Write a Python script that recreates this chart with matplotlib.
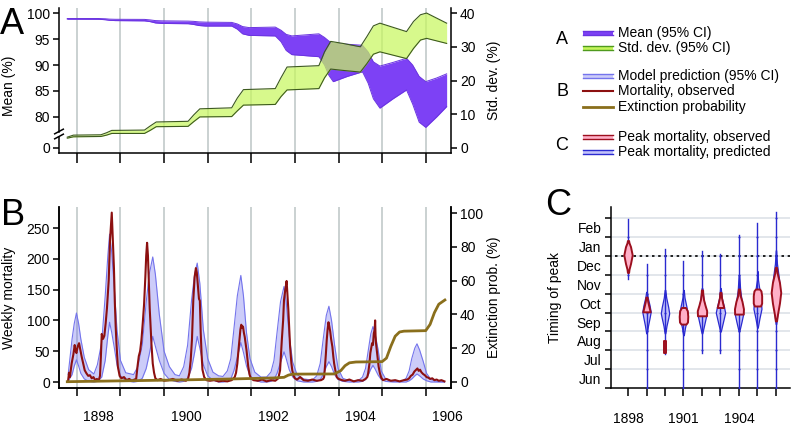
import numpy as np
import matplotlib
matplotlib.use("Agg")
import matplotlib.pyplot as plt
from matplotlib.ticker import FixedLocator, FixedFormatter, NullFormatter

plt.rcParams['font.family'] = ['Liberation Sans', 'DejaVu Sans']
plt.rcParams['font.size'] = 10

W, H = 796, 426

# ---------------- Panel A data ----------------
mean_t = [1897.78, 1898.50, 1898.65, 1898.75, 1898.88, 1899.55, 1899.68, 1899.80, 1899.95,
          1900.55, 1900.68, 1900.80, 1900.95, 1901.55, 1901.68, 1901.80, 1901.95, 1902.55,
          1902.68, 1902.80, 1902.93, 1903.55, 1903.68, 1903.78, 1903.88, 1904.20, 1904.55,
          1904.68, 1904.80, 1904.95, 1905.25, 1905.56, 1905.70, 1905.85, 1906.00, 1906.25, 1906.48]
mean_lo = [98.82, 98.80, 98.72, 98.60, 98.55, 98.50, 98.35, 98.10, 98.00,
           97.95, 97.80, 97.60, 97.50, 97.50, 96.90, 96.00, 95.70, 95.60,
           94.50, 92.80, 92.00, 91.60, 90.00, 88.00, 86.80, 87.80, 88.70,
           86.50, 83.50, 81.70, 83.50, 85.20, 82.50, 79.00, 78.00, 80.00, 82.00]
mean_hi = [98.95, 98.95, 98.90, 98.83, 98.80, 98.78, 98.68, 98.55, 98.50,
           98.45, 98.40, 98.30, 98.25, 98.20, 97.90, 97.40, 97.20, 97.30,
           96.70, 95.90, 95.60, 96.00, 95.30, 94.60, 94.20, 94.00, 93.80,
           92.50, 90.60, 89.80, 90.50, 91.30, 90.00, 87.80, 86.80, 87.50, 88.30]

sd_t = [1897.78, 1897.92, 1898.55, 1898.68, 1898.80, 1899.55, 1899.68, 1899.82, 1900.55,
        1900.68, 1900.82, 1901.55, 1901.68, 1901.82, 1902.55, 1902.68, 1902.82, 1903.55,
        1903.68, 1903.82, 1904.10, 1904.50, 1904.65, 1904.80, 1904.95, 1905.56, 1905.72,
        1905.88, 1906.02, 1906.48]
sd_lo = [2.9, 3.3, 3.4, 3.8, 4.3, 4.3, 5.2, 6.3, 6.4,
         7.8, 9.2, 9.3, 11.0, 12.7, 12.9, 15.2, 17.2, 17.6,
         20.8, 23.4, 23.0, 22.5, 25.0, 27.8, 28.5, 26.5, 29.5,
         32.0, 32.5, 31.0]
sd_hi = [3.2, 3.8, 3.9, 4.5, 5.2, 5.3, 6.5, 7.7, 7.9,
         9.8, 11.6, 11.9, 14.8, 17.3, 17.6, 20.8, 24.0, 24.4,
         28.5, 31.6, 31.0, 30.0, 33.0, 36.2, 37.0, 34.5, 37.5,
         39.5, 40.0, 37.0]

mean_ticks = [80, 85, 90, 95, 100]
sd_ticks = [0, 10, 20, 30, 40]

# ---------------- Panel B data ----------------
band_t = [1897.80, 1897.89, 1897.94, 1897.99, 1898.04, 1898.09, 1898.17, 1898.27, 1898.39,
          1898.47, 1898.57, 1898.65, 1898.71, 1898.75, 1898.80, 1898.86, 1898.92, 1899.00, 1899.12,
          1899.30, 1899.40, 1899.50, 1899.59, 1899.66, 1899.74, 1899.80, 1899.89, 1900.00, 1900.12, 1900.25,
          1900.35, 1900.45, 1900.54, 1900.63, 1900.70, 1900.76, 1900.82, 1900.90, 1901.00, 1901.12, 1901.25,
          1901.35, 1901.45, 1901.53, 1901.60, 1901.68, 1901.76, 1901.82, 1901.89, 1901.97, 1902.08, 1902.22,
          1902.35, 1902.45, 1902.52, 1902.59, 1902.67, 1902.75, 1902.80, 1902.87, 1902.95, 1903.05, 1903.20,
          1903.40, 1903.50, 1903.58, 1903.65, 1903.72, 1903.78, 1903.84, 1903.91, 1903.99, 1904.10, 1904.25,
          1904.45, 1904.55, 1904.62, 1904.68, 1904.74, 1904.79, 1904.84, 1904.91, 1904.98, 1905.08, 1905.25,
          1905.45, 1905.55, 1905.62, 1905.68, 1905.75, 1905.80, 1905.86, 1905.94, 1906.02, 1906.12, 1906.25, 1906.43]
band_hi = [12, 70, 95, 112, 95, 70, 40, 20, 13,
           28, 65, 140, 205, 240, 210, 150, 85, 35, 15,
           12, 25, 60, 130, 175, 203, 175, 110, 50, 25, 12,
           10, 25, 60, 133, 175, 193, 160, 85, 38, 16, 10,
           9, 18, 38, 85, 140, 173, 140, 80, 38, 16, 8,
           8, 16, 35, 80, 130, 155, 130, 75, 32, 12, 5,
           3, 10, 30, 70, 108, 123, 100, 60, 22, 6, 2,
           2, 8, 22, 50, 78, 90, 78, 52, 18, 5, 1,
           1, 6, 18, 38, 55, 62, 52, 34, 14, 4, 1, 0]
band_lo = [2, 12, 26, 36, 26, 14, 5, 1, 0,
           1, 8, 35, 75, 97, 80, 55, 28, 10, 2,
           0, 1, 6, 22, 45, 74, 58, 35, 14, 4, 1,
           0, 1, 6, 22, 48, 74, 55, 28, 10, 3, 0,
           0, 1, 5, 18, 40, 64, 48, 26, 10, 3, 0,
           0, 1, 4, 14, 32, 49, 38, 20, 8, 2, 0,
           0, 1, 4, 12, 25, 33, 25, 12, 4, 1, 0,
           0, 1, 4, 11, 21, 27, 21, 11, 4, 1, 0,
           0, 0, 2, 5, 10, 13, 10, 5, 2, 0, 0, 0]

obs_t = [1897.80, 1897.82, 1897.84, 1897.88, 1897.92, 1897.95, 1897.97, 1897.99, 1898.02, 1898.05,
         1898.08, 1898.11, 1898.15, 1898.18, 1898.22, 1898.26, 1898.30, 1898.34, 1898.38, 1898.42,
         1898.46, 1898.50,
         1898.53, 1898.55, 1898.57, 1898.60, 1898.63, 1898.66, 1898.69, 1898.73, 1898.76, 1898.79,
         1898.80, 1898.82, 1898.85, 1898.87, 1898.89, 1898.91, 1898.94, 1898.98, 1899.02, 1899.08,
         1899.14, 1899.20, 1899.26, 1899.32,
         1899.36, 1899.39, 1899.42, 1899.45, 1899.48, 1899.51, 1899.54, 1899.57, 1899.59, 1899.61,
         1899.63, 1899.65, 1899.67, 1899.69, 1899.71, 1899.74, 1899.77, 1899.80, 1899.85, 1899.92,
         1900.00, 1900.10, 1900.20, 1900.30, 1900.40, 1900.50,
         1900.55, 1900.58, 1900.61, 1900.64, 1900.67, 1900.70, 1900.73, 1900.75, 1900.77, 1900.80,
         1900.82, 1900.84, 1900.86, 1900.88, 1900.92, 1900.97, 1901.05, 1901.15, 1901.25, 1901.35,
         1901.45, 1901.55,
         1901.62, 1901.65, 1901.68, 1901.70, 1901.73, 1901.75, 1901.77, 1901.79, 1901.81, 1901.83,
         1901.85, 1901.87, 1901.89, 1901.91, 1901.93, 1901.96, 1901.99, 1902.05, 1902.15, 1902.25,
         1902.35, 1902.45, 1902.55,
         1902.62, 1902.66, 1902.70, 1902.73, 1902.75, 1902.78, 1902.81, 1902.83, 1902.85, 1902.87,
         1902.89, 1902.92, 1902.94, 1902.97, 1903.00, 1903.05, 1903.12, 1903.20, 1903.30, 1903.40,
         1903.50, 1903.60,
         1903.65, 1903.67, 1903.69, 1903.71, 1903.73, 1903.75, 1903.77, 1903.79, 1903.81, 1903.83,
         1903.86, 1903.88, 1903.90, 1903.93, 1903.96, 1904.00, 1904.08, 1904.15, 1904.25, 1904.35,
         1904.45, 1904.55, 1904.62,
         1904.66, 1904.68, 1904.71, 1904.73, 1904.75, 1904.77, 1904.79, 1904.81, 1904.83, 1904.84,
         1904.85, 1904.86, 1904.88, 1904.90, 1904.92, 1904.95, 1904.98, 1905.02, 1905.10, 1905.20,
         1905.30, 1905.40, 1905.50, 1905.58,
         1905.62, 1905.66, 1905.70, 1905.74, 1905.78, 1905.81, 1905.84, 1905.87, 1905.90, 1905.94,
         1905.98, 1906.02, 1906.06, 1906.10, 1906.15, 1906.20, 1906.25, 1906.30, 1906.36, 1906.43]
obs_v = [3, 15, 8, 30, 45, 60, 50, 47, 58, 63,
         52, 41, 28, 19, 14, 10, 11, 6, 8, 3,
         5, 2,
         10, 40, 78, 70, 75, 95, 120, 165, 230, 262,
         275, 240, 185, 130, 90, 60, 25, 10, 6, 8,
         3, 5, 2, 4,
         5, 25, 42, 50, 68, 95, 125, 170, 205, 226,
         205, 160, 120, 90, 62, 30, 15, 6, 3, 5,
         2, 3, 5, 2, 4, 2,
         5, 15, 35, 70, 133, 170, 185, 178, 160, 135,
         132, 80, 45, 20, 8, 3, 2, 3, 1, 2,
         1, 3,
         8, 15, 30, 47, 70, 85, 93, 88, 90, 80,
         73, 62, 52, 38, 25, 12, 6, 3, 2, 4,
         1, 3, 2,
         6, 19, 68, 100, 133, 150, 164, 140, 117, 85,
         57, 30, 19, 10, 6, 4, 8, 3, 2, 4,
         2, 3,
         5, 8, 25, 45, 68, 85, 97, 90, 82, 70,
         57, 42, 30, 18, 8, 5, 3, 2, 4, 1,
         3, 2, 5,
         8, 14, 30, 47, 55, 63, 60, 79, 85, 100,
         75, 63, 50, 36, 25, 14, 7, 3, 5, 2,
         3, 1, 3, 4,
         6, 10, 12, 17, 20, 22, 18, 20, 16, 13,
         11, 8, 7, 5, 6, 3, 4, 2, 3, 1]

ext_t = [1897.78, 1898.50, 1899.50, 1900.50, 1901.50, 1902.50, 1902.75, 1902.85, 1902.95, 1903.90,
         1904.05, 1904.15, 1904.25, 1904.40, 1905.00, 1905.10, 1905.20, 1905.30, 1905.40, 1905.50,
         1906.00, 1906.10, 1906.20, 1906.30, 1906.44]
ext_v = [0, 0.3, 0.7, 1.1, 1.6, 2.2, 2.6, 3.9, 4.5, 4.6,
         6.5, 9.5, 11.2, 11.7, 11.9, 14, 21, 27, 29.5, 30,
         30.3, 34, 41, 46, 48.5]

year_ticks = list(range(1898, 1907))
year_labels_B = ['1898', '1900', '1902', '1904', '1906']

# ---------------- Panel C data ----------------
peak_years = [1898, 1899, 1900, 1901, 1902, 1903, 1904, 1905, 1906]
# months since 1 June
pred_range_lo = [5.78, 0.0, 1.79, 0.0, 1.88, 1.88, 0.0, 0.0, 0.0]
pred_range_hi = [8.97, 6.58, 7.38, 6.76, 7.29, 7.11, 8.09, 8.74, 9.33]
pred_coords = [[6.3, 6.8, 7.06, 7.4, 7.8],
               [2.9, 3.3, 3.7, 4.04, 4.4, 4.8, 5.1],
               [2.9, 3.3, 3.7, 3.96, 4.3, 4.8, 5.2],
               [2.8, 3.2, 3.6, 3.9, 4.3, 4.8, 5.2],
               [2.9, 3.3, 3.83, 4.2, 4.7, 5.3],
               [3.0, 3.5, 4.0, 4.3, 4.8, 5.3],
               [3.0, 3.5, 3.92, 4.5, 5.2, 6.0],
               [3.2, 3.7, 4.2, 4.6, 5.2, 5.75, 6.2],
               [3.4, 4.2, 5.0, 5.8, 6.6, 7.3]]
pred_dens = [[0.5, 2.0, 3.0, 2.0, 0.5],
             [0.3, 1.5, 3.0, 4.2, 3.0, 1.2, 0.3],
             [0.3, 1.5, 3.2, 4.2, 3.2, 1.2, 0.3],
             [0.3, 1.5, 3.2, 4.3, 3.0, 1.0, 0.3],
             [0.3, 2.0, 4.2, 3.5, 1.5, 0.3],
             [0.3, 2.5, 4.7, 3.5, 1.2, 0.3],
             [0.3, 2.5, 4.2, 3.0, 1.2, 0.3],
             [0.3, 2.0, 4.0, 3.5, 2.0, 0.5, 0.2],
             [0.3, 2.0, 4.0, 3.0, 1.0, 0.2]]
obs_coords = [[6.13, 6.3, 6.6, 7.06, 7.5, 7.7, 7.82],
              [4.04, 4.3, 4.6, 4.82],
              [1.88, 2.5],
              [3.39, 3.5, 3.8, 4.1, 4.27],
              [3.83, 4.1, 4.4, 4.7, 5.0, 5.2],
              [4.27, 4.5, 4.8, 5.07],
              [3.92, 4.2, 4.6, 4.9, 5.25],
              [4.35, 4.5, 4.9, 5.15, 5.25],
              [3.56, 3.9, 4.5, 5.07, 5.6, 6.1, 6.4]]
obs_dens = [[0.6, 1.0, 2.5, 4.2, 2.5, 1.0, 0.6],
            [3.7, 2.5, 1.2, 0.6],
            [0.6, 0.6],
            [2.5, 4.0, 4.3, 3.8, 2.0],
            [4.5, 4.7, 3.0, 1.5, 0.8, 0.6],
            [3.3, 2.2, 1.0, 0.6],
            [4.3, 4.5, 3.0, 1.2, 0.6],
            [3.0, 4.2, 4.2, 3.5, 2.0],
            [0.6, 1.5, 3.5, 4.8, 3.5, 1.2, 0.6]]
month_labels = ['Jun', 'Jul', 'Aug', 'Sep', 'Oct', 'Nov', 'Dec', 'Jan', 'Feb']
year_labels_C = ['1898', '1901', '1904']

# ---------------- styling ----------------
PURPLE = '#7d41f5'
PURPLE_EDGE = '#6a34e0'
GREEN = '#c8f760'
GREEN_EDGE = '#3d5a1e'
BAND_FILL = '#6d6df0'
BAND_EDGE = '#7474ec'
RED = '#8c1010'
OLIVE = '#8a6f1c'
PINK = '#ffb0c8'
PINK_EDGE = '#9c0f1e'
BLUE_V = '#c2c2fa'
BLUE_V_EDGE = '#2a2ad0'
GRID = '#c6cece'
SPW = 1.1


def rect(l, t, r, b):
    return [l / W, (H - b) / H, (r - l) / W, (b - t) / H]


fig = plt.figure(figsize=(W / 100, H / 100), dpi=100)

XLIM = (1897.59, 1906.58)

# ======================= Panel A =======================
axA = fig.add_axes(rect(59, 8, 451, 153))
axA2 = axA.twinx()
SD_LIM = (-1.5, 41.5)
# mean axis aligned: 100 <-> sd 40, 80 <-> sd 9.185
k = (40 - 9.185) / 20.0
m_of_sd = lambda s: 80 + (s - 9.185) / k
axA.set_ylim(m_of_sd(SD_LIM[0]), m_of_sd(SD_LIM[1]))
axA2.set_ylim(*SD_LIM)
axA.set_xlim(*XLIM)

for x in year_ticks:
    axA.axvline(x, color=GRID, lw=1.3, zorder=0)

axA.fill_between(mean_t, mean_lo, mean_hi, color=PURPLE, lw=0, zorder=2)
axA.plot(mean_t, mean_lo, color=PURPLE_EDGE, lw=0.7, zorder=3)
axA.plot(mean_t, mean_hi, color=PURPLE_EDGE, lw=0.7, zorder=3)

axA2.fill_between(sd_t, sd_lo, sd_hi, color=GREEN, alpha=0.72, lw=0, zorder=2)
axA2.plot(sd_t, sd_lo, color=GREEN_EDGE, lw=0.8, zorder=3)
axA2.plot(sd_t, sd_hi, color=GREEN_EDGE, lw=0.8, zorder=3)

zero_pos = m_of_sd(0)
axA.yaxis.set_major_locator(FixedLocator([zero_pos] + mean_ticks))
axA.yaxis.set_major_formatter(FixedFormatter(['0'] + [str(v) for v in mean_ticks]))
axA2.yaxis.set_major_locator(FixedLocator(sd_ticks))
axA.xaxis.set_major_locator(FixedLocator(year_ticks))
axA.xaxis.set_major_formatter(NullFormatter())

for a in (axA, axA2):
    a.spines['top'].set_visible(False)
    for s in a.spines.values():
        s.set_linewidth(SPW)
axA.spines['right'].set_visible(False)
axA2.spines['left'].set_visible(False)
axA2.spines['bottom'].set_visible(False)
axA.spines['left'].set_visible(False)
# broken left spine
yb_hi = (153 - 131.5) / 145
yb_lo = (153 - 136.5) / 145
axA.plot([0, 0], [yb_hi, 1], transform=axA.transAxes, color='k', lw=SPW, clip_on=False)
axA.plot([0, 0], [0, yb_lo], transform=axA.transAxes, color='k', lw=SPW, clip_on=False)
dx, dy = 0.011, 0.016
for yc in (yb_hi, yb_lo):
    axA.plot([-dx, dx], [yc - dy, yc + dy], transform=axA.transAxes, color='k', lw=SPW, clip_on=False)

axA.tick_params(axis='x', length=7, width=SPW, direction='out')
axA.tick_params(axis='y', length=4.5, width=SPW, pad=2, labelsize=10)
axA2.tick_params(axis='y', length=4.5, width=SPW, pad=2, labelsize=10)
axA.set_ylabel('Mean (%)', fontsize=10)
axA.yaxis.set_label_coords((16 - 59) / 392, 0.46)
axA2.set_ylabel('Std. dev. (%)', fontsize=10, rotation=90)
axA2.yaxis.set_label_coords((487 - 59) / 392, 0.5)

# ======================= Panel B =======================
axB = fig.add_axes(rect(59, 207, 451, 388))
axB2 = axB.twinx()
axB.set_xlim(*XLIM)
axB.set_ylim(-9.74, 284.1)
axB2.set_ylim(-3.74, 103.7)
for x in year_ticks:
    axB.axvline(x, color=GRID, lw=1.3, zorder=0)

axB.fill_between(band_t, band_lo, band_hi, color=BAND_FILL, alpha=0.35, lw=0, zorder=2)
axB.plot(band_t, band_hi, color=BAND_EDGE, lw=0.8, zorder=3)
axB.plot(band_t, band_lo, color=BAND_EDGE, lw=0.8, zorder=3)
axB.plot(obs_t, obs_v, color=RED, lw=1.5, zorder=4)
axB2.plot(ext_t, ext_v, color=OLIVE, lw=2.0, zorder=5)

axB.yaxis.set_major_locator(FixedLocator([0, 50, 100, 150, 200, 250]))
axB2.yaxis.set_major_locator(FixedLocator([0, 20, 40, 60, 80, 100]))
axB.xaxis.set_major_locator(FixedLocator(year_ticks))
axB.xaxis.set_major_formatter(NullFormatter())
axB.xaxis.set_minor_locator(FixedLocator([int(y) + 0.5 for y in year_labels_B]))
axB.xaxis.set_minor_formatter(FixedFormatter(year_labels_B))
axB.tick_params(axis='x', which='major', length=6, width=SPW)
axB.tick_params(axis='x', which='minor', length=0, pad=15.5, labelsize=10)
axB.tick_params(axis='y', length=4.5, width=SPW, pad=2, labelsize=10)
axB2.tick_params(axis='y', length=4.5, width=SPW, pad=2, labelsize=10)
for a in (axB, axB2):
    a.spines['top'].set_visible(False)
    for s in a.spines.values():
        s.set_linewidth(SPW)
axB.set_ylabel('Weekly mortality', fontsize=10)
axB.yaxis.set_label_coords((16 - 59) / 392, 0.5)
axB2.set_ylabel('Extinction prob. (%)', fontsize=10, rotation=90)
axB2.yaxis.set_label_coords((487 - 59) / 392, 0.5)

# ======================= Panel C =======================
axC = fig.add_axes(rect(611, 207, 790, 388))
axC.set_xlim(1897.08, 1906.76)
axC.set_ylim(0, 9.6)
for m in range(1, 10):
    axC.axhline(m, color='#dde2e8', lw=1.2, zorder=0)
axC.axhline(7, xmin=0.02, color='k', lw=1.2, ls=(0, (1.5, 2.2)), zorder=1)

VSCALE = 2.0 / 18.5  # width (years) per unit of density


def vstats(coords, dens):
    c = np.asarray(coords, float)
    d = np.asarray(dens, float)
    return dict(coords=c, vals=d, mean=c.mean(), median=float(np.median(c)),
                min=c.min(), max=c.max())


for i, yr in enumerate(peak_years):
    res = axC.violin([vstats(pred_coords[i], pred_dens[i])], positions=[yr],
                     widths=[VSCALE * max(pred_dens[i])], showextrema=False)
    for b in res['bodies']:
        b.set_facecolor(BLUE_V)
        b.set_edgecolor(BLUE_V_EDGE)
        b.set_alpha(1)
        b.set_linewidth(0.9)
        b.set_zorder(2)
    axC.plot([yr, yr], [pred_range_lo[i], pred_range_hi[i]], color=BLUE_V_EDGE, lw=1.0, zorder=3)
    mk = np.arange(np.ceil(pred_range_lo[i]), np.floor(pred_range_hi[i]) + 1)
    axC.plot(np.full(len(mk), yr), mk, 'o', ms=1.5, mew=0, color=BLUE_V_EDGE, zorder=3)
    res = axC.violin([vstats(obs_coords[i], obs_dens[i])], positions=[yr],
                     widths=[VSCALE * max(obs_dens[i])], showextrema=False)
    for b in res['bodies']:
        b.set_facecolor(PINK)
        b.set_edgecolor(PINK_EDGE)
        b.set_alpha(1)
        b.set_linewidth(1.4)
        b.set_zorder(4)

axC.xaxis.set_major_locator(FixedLocator(peak_years))
axC.xaxis.set_major_formatter(FixedFormatter([str(y) if str(y) in year_labels_C else '' for y in peak_years]))
axC.yaxis.set_major_locator(FixedLocator(list(range(0, 10))))
axC.yaxis.set_major_formatter(NullFormatter())
axC.yaxis.set_minor_locator(FixedLocator([m + 0.5 for m in range(len(month_labels))]))
axC.yaxis.set_minor_formatter(FixedFormatter(month_labels))
axC.tick_params(axis='x', length=6, width=SPW, pad=11, labelsize=10)
axC.tick_params(axis='y', which='major', length=4.5, width=SPW)
axC.tick_params(axis='y', which='minor', length=0, pad=7, labelsize=10)
for s in ('top', 'right'):
    axC.spines[s].set_visible(False)
for s in axC.spines.values():
    s.set_linewidth(SPW)
axC.set_ylabel('Timing of peak', fontsize=10)
axC.yaxis.set_label_coords((562 - 611) / 179, 0.5)

# ======================= panel letters =======================
fig.text(0 / W, 1 - 34 / H, 'A', fontsize=26, va='baseline', ha='left')
fig.text(1 / W, 1 - 225 / H, 'B', fontsize=26, va='baseline', ha='left')
fig.text(545 / W, 1 - 215 / H, 'C', fontsize=26, va='baseline', ha='left')

# ======================= legend =======================
leg = fig.add_axes([0, 0, 1, 1], facecolor='none')
leg.set_xlim(0, W)
leg.set_ylim(H, 0)
leg.axis('off')
SX0, SX1, TX = 583, 613, 618


def band_swatch(y, fill, edge, alpha=1.0):
    leg.fill_between([SX0, SX1], y - 2.2, y + 2.2, color=fill, alpha=alpha, lw=0)
    leg.plot([SX0, SX1], [y - 2.2, y - 2.2], color=edge, lw=1.0)
    leg.plot([SX0, SX1], [y + 2.2, y + 2.2], color=edge, lw=1.0)


def line_swatch(y, color, lw):
    leg.plot([SX0, SX1], [y, y], color=color, lw=lw)


rows = [
    (33, 'Mean (95% CI)', lambda y: band_swatch(y, PURPLE, PURPLE_EDGE)),
    (48, 'Std. dev. (95% CI)', lambda y: band_swatch(y, '#c4f55a', '#4f9a1e')),
    (76, 'Model prediction (95% CI)', lambda y: band_swatch(y, BAND_FILL, BAND_EDGE, 0.35)),
    (91, 'Mortality, observed', lambda y: line_swatch(y, RED, 1.5)),
    (107, 'Extinction probability', lambda y: line_swatch(y, OLIVE, 2.0)),
    (137, 'Peak mortality, observed', lambda y: band_swatch(y, PINK, PINK_EDGE)),
    (152, 'Peak mortality, predicted', lambda y: band_swatch(y, BLUE_V, BLUE_V_EDGE)),
]
for y, label, drawer in rows:
    drawer(y)
    leg.text(TX, y, label, va='center', ha='left', fontsize=10)
for y, letter in ((40, 'A'), (92, 'B'), (145, 'C')):
    leg.text(562, y, letter, va='center', ha='center', fontsize=13)

fig.savefig('out.png', dpi=100)
